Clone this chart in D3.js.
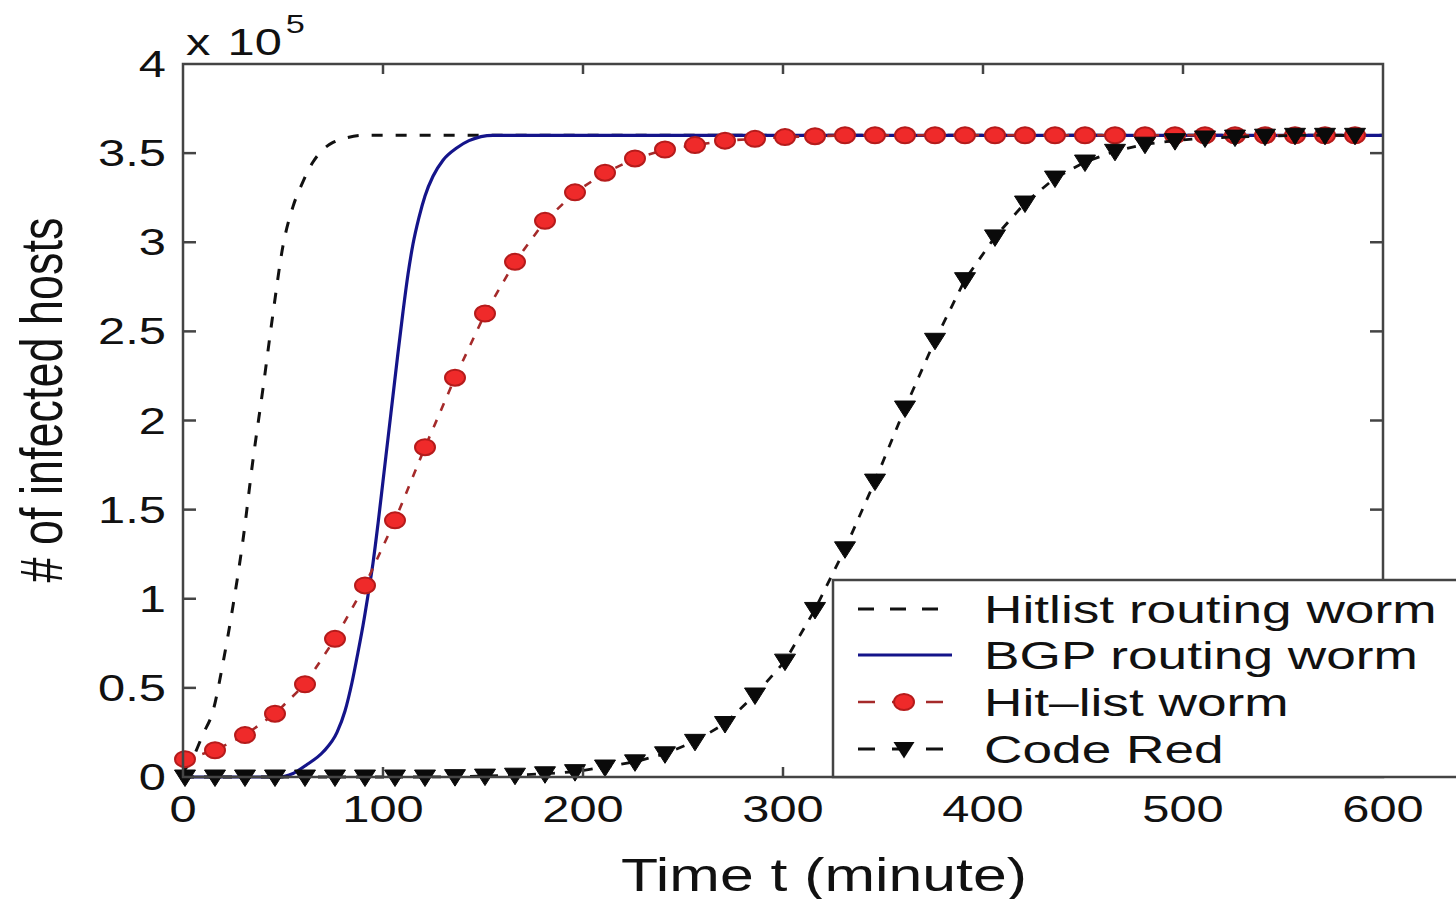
<!DOCTYPE html>
<html><head><meta charset="utf-8">
<script src="https://cdn.jsdelivr.net/npm/d3@7"></script>
<style>html,body{margin:0;padding:0;background:#fff;} svg{display:block;}</style>
</head><body><svg id="chart" width="1456" height="899"></svg>
<script>
// ---------- data (values in units of 10^5 hosts) ----------
const xTicks = [0, 100, 200, 300, 400, 500, 600];
const xTickLabels = ["0", "100", "200", "300", "400", "500", "600"];
const yTicks = [0, 0.5, 1, 1.5, 2, 2.5, 3, 3.5, 4];
const yTickLabels = ["0", "0.5", "1", "1.5", "2", "2.5", "3", "3.5", "4"];
const seriesNames = ["Hitlist routing worm", "BGP routing worm", "Hit\u2013list worm", "Code Red"];

// Hitlist routing worm (black dashed, no markers)
const hitlistRoutingT = [0, 5, 10, 15, 20, 25, 30, 35, 40, 45, 50, 55, 60, 65, 70, 75, 80, 90, 100, 600];
const hitlistRoutingV = [0.03, 0.11, 0.24, 0.37, 0.64, 0.96, 1.33, 1.78, 2.18, 2.60, 2.98, 3.20, 3.34, 3.45, 3.52, 3.56, 3.58, 3.60, 3.60, 3.60];

// BGP routing worm (blue solid)
const bgpT = [0, 48, 55, 62, 70, 77, 81, 84.5, 87.5, 90, 92.5, 95, 97.5, 100, 102.5, 105, 107.5, 110, 112.5, 115, 118, 121, 125, 130, 137, 143, 155, 600];
const bgpV = [0, 0, 0.02, 0.07, 0.14, 0.25, 0.37, 0.53, 0.70, 0.85, 1.02, 1.20, 1.42, 1.66, 1.90, 2.14, 2.38, 2.61, 2.82, 2.99, 3.14, 3.26, 3.37, 3.46, 3.53, 3.57, 3.60, 3.60];

// sample times of the marker series
const markerT = [1, 16, 31, 46, 61, 76, 91, 106, 121, 136, 151, 166, 181, 196, 211, 226, 241, 256, 271, 286,
                 301, 316, 331, 346, 361, 376, 391, 406, 421, 436, 451, 466, 481, 496, 511, 526, 541, 556, 571, 586];
// Hit-list worm (red dashed with circles)
const hitListV = [0.10, 0.15, 0.235, 0.355, 0.52, 0.775, 1.075, 1.44, 1.85, 2.24, 2.60, 2.89, 3.12, 3.28, 3.39, 3.47, 3.52, 3.545, 3.57, 3.58,
                  3.59, 3.595, 3.60, 3.60, 3.60, 3.60, 3.60, 3.60, 3.60, 3.60, 3.60, 3.60, 3.60, 3.60, 3.60, 3.60, 3.60, 3.60, 3.60, 3.60];
// Code Red (black dashed with down triangles)
const codeRedV = [0, 0, 0, 0, 0, 0, 0, 0, 0, 0.002, 0.005, 0.01, 0.018, 0.03, 0.056, 0.085, 0.13, 0.20, 0.30, 0.46,
                  0.65, 0.94, 1.28, 1.66, 2.07, 2.45, 2.79, 3.03, 3.22, 3.36, 3.45, 3.51, 3.55, 3.57, 3.585, 3.59, 3.595, 3.60, 3.60, 3.60];

// ---------- layout ----------
const SX = 1.32; // horizontal stretch of the original figure's lettering
const FONT = "'Liberation Sans', Arial, Helvetica, sans-serif";
const L = 183, R = 1383, T = 64, B = 777;

const svg = d3.select("#chart");
svg.append("rect").attr("width", 1456).attr("height", 899).attr("fill", "#fff");

const x = d3.scaleLinear().domain([0, 600]).range([L, R]);
const y = d3.scaleLinear().domain([0, 4]).range([B, T]);

const axisColor = "#444";
const textColor = "#111";

// ---------- data lines ----------
const zip = (a, b) => a.map((t, i) => [t, b[i]]);
const smooth = d3.line().x(d => x(d[0])).y(d => y(d[1])).curve(d3.curveMonotoneX);
const straight = d3.line().x(d => x(d[0])).y(d => y(d[1]));

const plot = svg.append("g");

plot.append("path").attr("d", smooth(zip(hitlistRoutingT, hitlistRoutingV)))
  .attr("fill", "none").attr("stroke", "#111").attr("stroke-width", 3)
  .attr("stroke-dasharray", "11,13");

plot.append("path").attr("d", smooth(zip(bgpT, bgpV)))
  .attr("fill", "none").attr("stroke", "#14148a").attr("stroke-width", 3.2);

const hitPts = zip(markerT, hitListV);
plot.append("path").attr("d", straight(hitPts))
  .attr("fill", "none").attr("stroke", "#a52a2a").attr("stroke-width", 2.6)
  .attr("stroke-dasharray", "8,10");
plot.selectAll("ellipse.hit").data(hitPts).join("ellipse").attr("class", "hit")
  .attr("cx", d => x(d[0])).attr("cy", d => y(d[1]))
  .attr("rx", 10).attr("ry", 8)
  .attr("fill", "#ef2a2a").attr("stroke", "#b51b1b").attr("stroke-width", 2);

const crPts = zip(markerT, codeRedV);
plot.append("path").attr("d", straight(crPts))
  .attr("fill", "none").attr("stroke", "#111").attr("stroke-width", 2.8)
  .attr("stroke-dasharray", "9,10");
const tri = (cx, cy) => `M${cx - 10.5},${cy - 7} L${cx + 10.5},${cy - 7} L${cx},${cy + 9.5} Z`;
plot.selectAll("path.cr").data(crPts).join("path").attr("class", "cr")
  .attr("d", d => tri(x(d[0]), y(d[1])))
  .attr("fill", "#0a0a0a").attr("stroke", "#0a0a0a").attr("stroke-width", 1);

// ---------- axes box & ticks ----------
const ax = svg.append("g");
ax.append("rect").attr("x", L).attr("y", T).attr("width", R - L).attr("height", B - T)
  .attr("fill", "none").attr("stroke", axisColor).attr("stroke-width", 2.5);

xTicks.forEach(v => {
  if (v === 0 || v === 600) return;
  ax.append("line").attr("x1", x(v)).attr("x2", x(v)).attr("y1", B).attr("y2", B - 10)
    .attr("stroke", axisColor).attr("stroke-width", 2.5);
  ax.append("line").attr("x1", x(v)).attr("x2", x(v)).attr("y1", T).attr("y2", T + 10)
    .attr("stroke", axisColor).attr("stroke-width", 2.5);
});
yTicks.forEach(v => {
  if (v === 0 || v === 4) return;
  ax.append("line").attr("x1", L).attr("x2", L + 13).attr("y1", y(v)).attr("y2", y(v))
    .attr("stroke", axisColor).attr("stroke-width", 2.5);
  ax.append("line").attr("x1", R).attr("x2", R - 13).attr("y1", y(v)).attr("y2", y(v))
    .attr("stroke", axisColor).attr("stroke-width", 2.5);
});

// tick labels
const txt = svg.append("g").attr("font-family", FONT).attr("fill", textColor);
xTicks.forEach((v, i) => {
  txt.append("text").attr("transform", `translate(${x(v)},${822}) scale(${SX},1)`)
    .attr("text-anchor", "middle").attr("font-size", 37).text(xTickLabels[i]);
});
yTicks.forEach((v, i) => {
  txt.append("text").attr("transform", `translate(${166},${y(v) + 13}) scale(${SX},1)`)
    .attr("text-anchor", "end").attr("font-size", 37).text(yTickLabels[i]);
});

// exponent
const ex = txt.append("text").attr("transform", `translate(186,55) scale(${SX},1)`).attr("font-size", 37);
ex.append("tspan").text("x");
ex.append("tspan").attr("dx", 13).text("10");
ex.append("tspan").attr("font-size", 26).attr("dx", 3).attr("dy", -22).text("5");

// axis titles
txt.append("text").attr("transform", `translate(824,891) scale(${SX},1)`)
  .attr("text-anchor", "middle").attr("font-size", 46).text("Time t (minute)");
txt.append("text").attr("transform", `translate(62,400) scale(${SX},1) rotate(-90)`)
  .attr("text-anchor", "middle").attr("font-size", 45).text("# of infected hosts");

// ---------- legend ----------
const lg = svg.append("g");
lg.append("rect").attr("x", 833).attr("y", 580).attr("width", 660).attr("height", B - 580)
  .attr("fill", "#fff").attr("stroke", axisColor).attr("stroke-width", 2.5);
const rowY = [609, 655, 702, 749];
const sx0 = 858, sx1 = 948, scx = 904;
// row 1
lg.append("line").attr("x1", sx0).attr("x2", sx1).attr("y1", rowY[0]).attr("y2", rowY[0])
  .attr("stroke", "#111").attr("stroke-width", 3).attr("stroke-dasharray", "16,16");
// row 2
lg.append("line").attr("x1", sx0).attr("x2", sx1 + 4).attr("y1", rowY[1]).attr("y2", rowY[1])
  .attr("stroke", "#14148a").attr("stroke-width", 3.2);
// row 3
lg.append("line").attr("x1", sx0).attr("x2", sx1).attr("y1", rowY[2]).attr("y2", rowY[2])
  .attr("stroke", "#a52a2a").attr("stroke-width", 2.6).attr("stroke-dasharray", "17,17");
lg.append("ellipse").attr("cx", scx).attr("cy", rowY[2]).attr("rx", 10).attr("ry", 8)
  .attr("fill", "#ef2a2a").attr("stroke", "#b51b1b").attr("stroke-width", 2);
// row 4
lg.append("line").attr("x1", sx0).attr("x2", sx1).attr("y1", rowY[3]).attr("y2", rowY[3])
  .attr("stroke", "#111").attr("stroke-width", 2.8).attr("stroke-dasharray", "17,17");
lg.append("path").attr("d", tri(scx, rowY[3])).attr("fill", "#0a0a0a");

seriesNames.forEach((name, i) => {
  lg.append("text").attr("transform", `translate(984,${rowY[i] + 14}) scale(1.365,1)`)
    .attr("font-family", FONT).attr("font-size", 39).attr("fill", textColor).text(name);
});
</script></body></html>
